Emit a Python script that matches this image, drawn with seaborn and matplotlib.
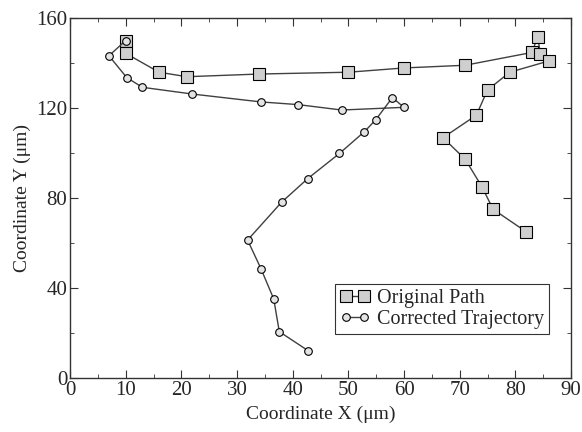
import matplotlib
matplotlib.use("Agg")
import matplotlib.pyplot as plt
import seaborn as sns
import pandas as pd

# original path (squares)
orig_x = [10, 10, 16, 21, 34, 50, 60, 71, 83, 84, 84.5, 86, 79, 75, 73, 67, 71, 74, 76, 82]
orig_y = [150, 144.3, 135.9, 133.9, 135.1, 135.9, 137.8, 139, 144.7, 151.7, 144.2, 140.9, 135.9, 128, 116.8, 106.8, 97.2, 85, 75, 64.9]

# corrected trajectory (circles)
corr_x = [10, 7, 10.2, 13, 22, 34.3, 41, 48.8, 60, 57.9, 54.9, 52.9, 48.4, 42.7, 38, 31.9, 34.3, 36.6, 37.6, 42.8]
corr_y = [150, 143.2, 133.5, 129.2, 126.2, 122.7, 121.5, 119.1, 120.3, 124.6, 114.7, 109.5, 99.8, 88.6, 78.1, 61.3, 48.6, 35.1, 20.6, 12.1]

orig = pd.DataFrame({"x": orig_x, "y": orig_y})
corr = pd.DataFrame({"x": corr_x, "y": corr_y})

sns.set_style("ticks")
plt.rcParams["font.family"] = ["Liberation Serif", "DejaVu Serif"]

fig = plt.figure(figsize=(5.82, 4.32), dpi=100)
ax = fig.add_axes([70 / 582, 1 - 378 / 432, 501 / 582, 360 / 432])

sns.lineplot(data=orig, x="x", y="y", sort=False, estimator=None, ax=ax,
             color="#404040", lw=1, marker="s", markersize=9,
             markerfacecolor="#cfcfcf", markeredgecolor="black",
             markeredgewidth=0.8, label="Original Path")
sns.lineplot(data=corr, x="x", y="y", sort=False, estimator=None, ax=ax,
             color="#404040", lw=1, marker="o", markersize=5.5,
             markerfacecolor="#e4e4e4", markeredgecolor="black",
             markeredgewidth=0.8, label="Corrected Trajectory")

ax.set_xlim(0, 90)
ax.set_ylim(0, 160)
ax.set_xticks(range(0, 91, 10))
ax.set_xticks(range(0, 91, 5), minor=True)
ax.set_yticks(range(0, 161, 40))
ax.set_yticks(range(0, 161, 20), minor=True)
ax.tick_params(which="both", direction="in", top=True, right=True,
               labelsize=15, color="#333333", pad=2)
ax.tick_params(which="major", length=6)
ax.tick_params(which="minor", length=3)
for s in ax.spines.values():
    s.set_color("#333333")
    s.set_linewidth(1)

ax.set_xlabel("Coordinate X (μm)", fontsize=14, labelpad=4)
ax.set_ylabel("Coordinate Y (μm)", fontsize=14, labelpad=4)

leg = ax.legend(loc="lower right", bbox_to_anchor=(0.956, 0.122), numpoints=2,
                fontsize=14.5, frameon=True, fancybox=False, borderpad=0.25,
                handlelength=1.5, handletextpad=0.35, labelspacing=0.1,
                borderaxespad=0)
leg.get_frame().set_edgecolor("black")
leg.get_frame().set_linewidth(0.8)

fig.savefig("out.png", dpi=100)
